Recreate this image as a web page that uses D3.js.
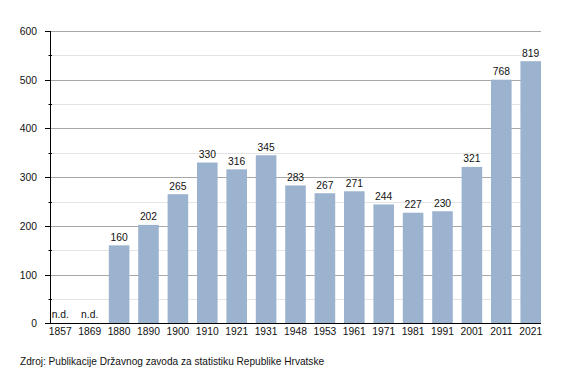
<!DOCTYPE html>
<html>
<head>
<meta charset="utf-8">
<script src="https://cdn.jsdelivr.net/npm/d3@7"></script>
<style>
body { margin: 0; background: #fff; }
text { font-family: "Liberation Sans", Arial, sans-serif; fill: #111; }
</style>
</head>
<body>
<script>
var years = ["1857", "1869", "1880", "1890", "1900", "1910", "1921", "1931", "1948",
	"1953", "1961", "1971", "1981", "1991", "2001", "2011", "2021"];
// bar heights as drawn in the picture (the last two are drawn shorter than their labels)
var heights = [null, null, 160, 202, 265, 330, 316, 345, 283, 267, 271, 244, 227, 230, 321, 500, 538];
var valueLabels = ["n.d.", "n.d.", "160", "202", "265", "330", "316", "345", "283", "267",
	"271", "244", "227", "230", "321", "768", "819"];
var yTicks = [0, 100, 200, 300, 400, 500, 600];
var yMinor = [50, 150, 250, 350, 450, 550];
var source = "Zdroj: Publikacije Državnog zavoda za statistiku Republike Hrvatske";

var width = 570, height = 373;
var plot = {left: 50, right: 541, top: 31, bottom: 323.3};
var fs = 10.3;

var svg = d3.select("body").append("svg")
	.attr("width", width)
	.attr("height", height);

var x = d3.scaleBand().domain(years).range([plot.left, plot.right]).paddingInner(0.3).paddingOuter(0);
var y = d3.scaleLinear().domain([0, 600]).range([plot.bottom, plot.top]);

function py(d) { return Math.round(y(d)) + 0.5; }

// grid
svg.append("g").selectAll("line")
	.data(yMinor)
	.enter().append("line")
	.attr("x1", plot.left).attr("x2", plot.right)
	.attr("y1", py).attr("y2", py)
	.attr("stroke", "#e4e4e4");

svg.append("g").selectAll("line")
	.data(yTicks.filter(function (d) { return d > 0; }))
	.enter().append("line")
	.attr("x1", plot.left).attr("x2", plot.right)
	.attr("y1", py).attr("y2", py)
	.attr("stroke", "#a8a8a8");

// bars
var data = years.map(function (d, i) { return {year: d, h: heights[i], label: valueLabels[i]}; });

svg.append("g").selectAll("rect")
	.data(data.filter(function (d) { return d.h != null; }))
	.enter().append("rect")
	.attr("x", function (d) { return x(d.year); })
	.attr("width", x.bandwidth())
	.attr("y", function (d) { return y(d.h); })
	.attr("height", function (d) { return y(0) - y(d.h); })
	.attr("fill", "#9bb3cf");

svg.append("g").selectAll("text")
	.data(data)
	.enter().append("text")
	.attr("x", function (d) { return x(d.year) + x.bandwidth() / 2; })
	.attr("y", function (d) { return d.h == null ? y(0) - 5 : y(d.h) - 4.5; })
	.attr("text-anchor", "middle")
	.attr("font-size", fs)
	.text(function (d) { return d.label; });

// axes
svg.append("line")
	.attr("x1", plot.left + 0.5).attr("x2", plot.left + 0.5)
	.attr("y1", plot.top).attr("y2", plot.bottom)
	.attr("stroke", "#000");

svg.append("line")
	.attr("x1", plot.left - 5).attr("x2", plot.right)
	.attr("y1", py(0)).attr("y2", py(0))
	.attr("stroke", "#000");

svg.append("g").selectAll("line")
	.data(yTicks)
	.enter().append("line")
	.attr("x1", plot.left - 5).attr("x2", plot.left)
	.attr("y1", py).attr("y2", py)
	.attr("stroke", "#000");

svg.append("g").selectAll("line")
	.data(yMinor)
	.enter().append("line")
	.attr("x1", plot.left - 1.5).attr("x2", plot.left + 2)
	.attr("y1", py).attr("y2", py)
	.attr("stroke", "#000");

svg.append("g").selectAll("text")
	.data(yTicks)
	.enter().append("text")
	.attr("x", 37)
	.attr("y", function (d) { return y(d) + 4; })
	.attr("text-anchor", "end")
	.attr("font-size", fs)
	.text(function (d) { return d; });

svg.append("g").selectAll("text")
	.data(years)
	.enter().append("text")
	.attr("x", function (d) { return x(d) + x.bandwidth() / 2; })
	.attr("y", 335)
	.attr("text-anchor", "middle")
	.attr("font-size", fs)
	.text(function (d) { return d; });

svg.append("text")
	.attr("x", 20)
	.attr("y", 364.5)
	.attr("font-size", 10.1)
	.text(source);
</script>
</body>
</html>
